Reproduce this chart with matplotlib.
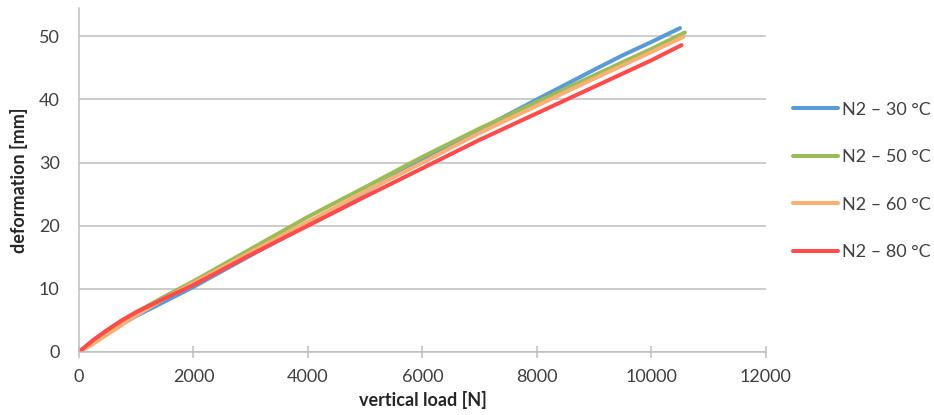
import matplotlib
matplotlib.use('Agg')
import matplotlib.pyplot as plt

# load [N] / deformation [mm]
load_30 = [0, 250, 500, 750, 1000, 1500, 2000, 3000, 4000, 5000, 6000, 7000, 8000, 9000, 9500, 10000, 10500]
def_30 = [0, 1.5, 3.0, 4.4, 5.7, 8.0, 10.3, 15.3, 20.2, 25.3, 30.4, 35.2, 40.0, 44.7, 47.0, 49.1, 51.3]

load_50 = [0, 250, 500, 750, 1000, 1500, 2000, 3000, 4000, 5000, 6000, 7000, 8000, 9000, 10000, 10585]
def_50 = [0, 1.8, 3.5, 5.0, 6.3, 8.8, 11.2, 16.3, 21.4, 26.1, 30.9, 35.4, 39.6, 43.8, 48.0, 50.6]

load_60 = [0, 250, 500, 750, 1000, 1500, 2000, 3000, 4000, 5000, 6000, 7000, 8000, 9000, 10000, 10556]
def_60 = [0, 1.3, 2.8, 4.3, 5.8, 8.5, 10.9, 15.8, 20.6, 25.4, 30.0, 34.7, 39.0, 43.3, 47.5, 49.9]

load_80 = [0, 250, 500, 750, 1000, 1500, 2000, 3000, 4000, 5000, 6000, 7000, 8000, 9000, 10000, 10527]
def_80 = [0, 1.9, 3.5, 5.0, 6.3, 8.5, 10.6, 15.4, 20.0, 24.6, 29.1, 33.6, 37.8, 42.0, 46.2, 48.6]

labels = ['N2 – 30 °C', 'N2 – 50 °C', 'N2 – 60 °C', 'N2 – 80 °C']
colors = ['#5B9BD5', '#9BBB59', '#F9B074', '#FF4B4B']

plt.rcParams['font.family'] = ['Lato', 'DejaVu Sans']

fig = plt.figure(figsize=(9.34, 4.15), dpi=100)
ax = fig.add_axes([0.0846, 0.152, 0.7354, 0.829])

series = [(load_30, def_30), (load_50, def_50), (load_60, def_60), (load_80, def_80)]
for (x, y), lab, c in zip(series, labels, colors):
    ax.plot(x, y, color=c, lw=2.9, label=lab, solid_capstyle='round', solid_joinstyle='round')

ax.set_xlim(0, 12000)
ax.set_ylim(0, 54.5)
ax.set_xticks(range(0, 12001, 2000))
ax.set_yticks(range(0, 51, 10))
ax.yaxis.grid(True, color='#BFBFBF', lw=1.1)
ax.set_axisbelow(True)

for s in ['top', 'right']:
    ax.spines[s].set_visible(False)
for s in ['left', 'bottom']:
    ax.spines[s].set_color('#BFBFBF')
    ax.spines[s].set_linewidth(1.1)

ax.tick_params(axis='x', direction='inout', length=9, width=1.1, color='#BFBFBF',
               labelsize=13, labelcolor='#404040', pad=8)
ax.tick_params(axis='y', length=0, labelsize=13, labelcolor='#404040', pad=14)

ax.set_xlabel('vertical load [N]', fontsize=13, fontweight='bold', color='#262626', labelpad=4)
ax.set_ylabel('deformation [mm]', fontsize=13, fontweight='bold', color='#262626', labelpad=8)

fig.legend(loc='center left', bbox_to_anchor=(0.849, 0.564), frameon=False,
           fontsize=13, handlelength=2.5, handletextpad=0.2, labelspacing=1.75,
           borderpad=0, borderaxespad=0, labelcolor='#404040')

plt.savefig('out.png', dpi=100, facecolor='white')
plt.close()
